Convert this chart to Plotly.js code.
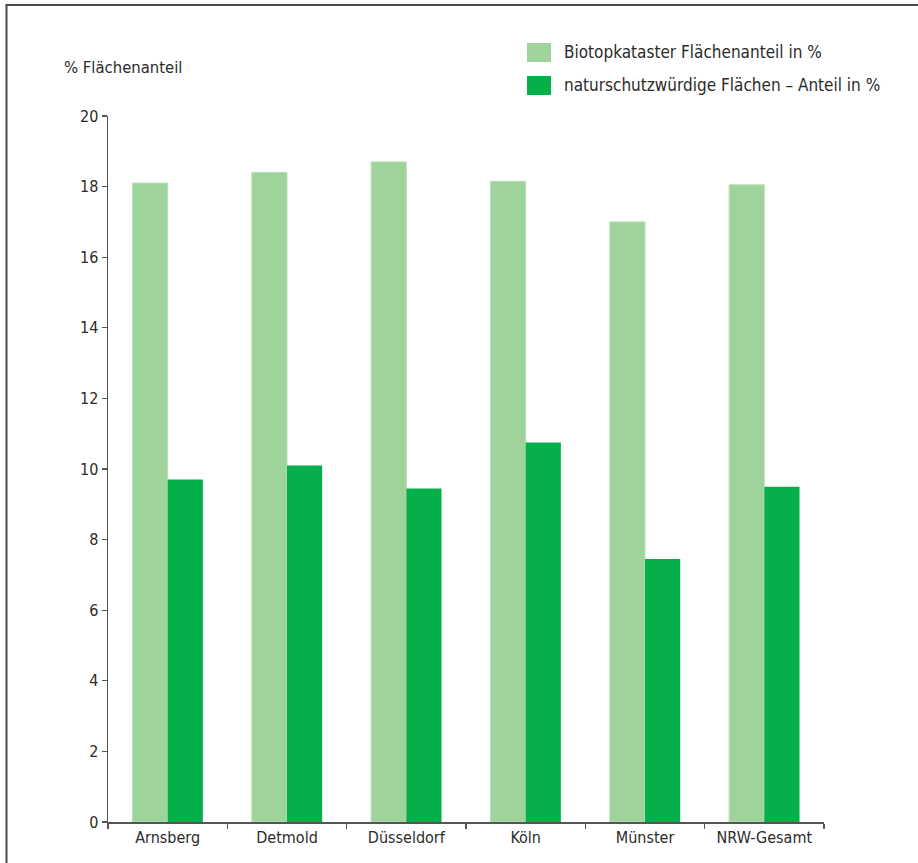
<!DOCTYPE html>
<html>
<head>
<meta charset="utf-8">
<script src="https://cdn.plot.ly/plotly-3.0.1.min.js"></script>
<style>
  html, body { margin: 0; padding: 0; background: #fff; }
  #chart { width: 918px; height: 863px; }
</style>
</head>
<body>
<div id="chart"></div>
<script>
// Regierungsbezirke and the state total
const regions = ["Arnsberg", "Detmold", "Düsseldorf", "Köln", "Münster", "NRW-Gesamt"];

// Share of area in the Biotopkataster (%)
const biotopShare = [18.1, 18.4, 18.7, 18.15, 17.0, 18.05];

// Share of areas worthy of nature protection (%)
const protectShare = [9.7, 10.1, 9.45, 10.75, 7.45, 9.5];

const seriesNames = [
  "Biotopkataster Flächenanteil in %",
  "naturschutzwürdige Flächen – Anteil in %"
];
const yTicks = [0, 2, 4, 6, 8, 10, 12, 14, 16, 18, 20];

const lightGreen = "#9fd39c";
const darkGreen = "#05b04b";
const fontFamily = "'Liberation Sans Narrow', 'DejaVu Sans Condensed', sans-serif";
const textColor = "#2b2b2b";
const axisColor = "#555555";

// plot area in pixels: x 108..824, y 116..822
const W = 918, H = 863;
const L = 108, R = 824, T = 116, B = 822;
const px = x => (x - L) / (R - L);
const py = y => (B - y) / (B - T);

const traces = [
  {
    type: "bar",
    name: seriesNames[0],
    x: regions,
    y: biotopShare,
    marker: { color: lightGreen, line: { color: "#b7dfb4", width: 1 } },
    showlegend: false,
    hoverinfo: "x+y"
  },
  {
    type: "bar",
    name: seriesNames[1],
    x: regions,
    y: protectShare,
    marker: { color: darkGreen, line: { width: 0 } },
    showlegend: false,
    hoverinfo: "x+y"
  }
];

const frameColor = "#4a4a4a";
const shapes = [
  // outer frame: left and top edges
  { type: "line", xref: "paper", yref: "paper",
    x0: px(6.5), x1: px(6.5), y0: py(5), y1: py(H + 2),
    line: { color: frameColor, width: 2 } },
  { type: "line", xref: "paper", yref: "paper",
    x0: px(5.5), x1: px(W + 2), y0: py(5), y1: py(5),
    line: { color: frameColor, width: 2 } },
  // legend swatches
  { type: "rect", xref: "paper", yref: "paper",
    x0: px(527), x1: px(551), y0: py(43), y1: py(62),
    fillcolor: lightGreen, line: { width: 0 } },
  { type: "rect", xref: "paper", yref: "paper",
    x0: px(527), x1: px(551), y0: py(76), y1: py(95),
    fillcolor: darkGreen, line: { width: 0 } }
];

const annotations = [
  { xref: "paper", yref: "paper", x: px(562), y: py(52.5),
    xanchor: "left", yanchor: "middle", showarrow: false,
    text: seriesNames[0], font: { family: fontFamily, size: 17, color: textColor } },
  { xref: "paper", yref: "paper", x: px(562), y: py(85.5),
    xanchor: "left", yanchor: "middle", showarrow: false,
    text: seriesNames[1], font: { family: fontFamily, size: 17, color: textColor } }
];

const layout = {
  width: W,
  height: H,
  margin: { l: L, r: W - R, t: T, b: H - B, pad: 0 },
  paper_bgcolor: "#ffffff",
  plot_bgcolor: "#ffffff",
  title: {
    text: "% Flächenanteil",
    xref: "container", yref: "container",
    x: 64 / W, xanchor: "left",
    y: 1 - 67 / H, yanchor: "middle",
    font: { family: fontFamily, size: 16.5, color: textColor }
  },
  barmode: "group",
  bargap: 0.41,
  bargroupgap: 0,
  font: { family: fontFamily, size: 16, color: textColor },
  xaxis: {
    type: "category",
    categoryorder: "array",
    categoryarray: regions,
    range: [-0.5, regions.length - 0.5],
    showgrid: false,
    zeroline: false,
    showline: true,
    linecolor: axisColor,
    linewidth: 1.5,
    ticks: "outside",
    tickson: "boundaries",
    ticklen: 5,
    tickcolor: axisColor,
    tickwidth: 1.2,
    tickfont: { family: fontFamily, size: 16, color: textColor },
    fixedrange: true
  },
  yaxis: {
    range: [0, 20],
    tickvals: yTicks,
    ticktext: yTicks.map(String),
    showgrid: false,
    zeroline: false,
    showline: true,
    linecolor: axisColor,
    linewidth: 1.5,
    ticks: "outside",
    ticklen: 5,
    tickcolor: axisColor,
    tickwidth: 1.2,
    tickfont: { family: fontFamily, size: 16, color: textColor },
    fixedrange: true
  },
  shapes: shapes,
  annotations: annotations,
  showlegend: false
};

Plotly.newPlot("chart", traces, layout, { displayModeBar: false, staticPlot: true });
</script>
</body>
</html>
